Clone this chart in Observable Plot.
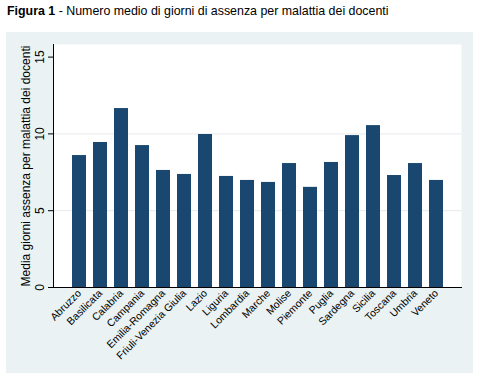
<!DOCTYPE html>
<html>
<head>
<meta charset="utf-8">
<script src="https://cdn.jsdelivr.net/npm/d3@7"></script>
<script src="https://cdn.jsdelivr.net/npm/@observablehq/plot@0.6"></script>
<style>
  html, body { margin: 0; padding: 0; background: #ffffff; }
  body { width: 484px; height: 383px; position: relative; overflow: hidden; font-family: "Liberation Sans", Arial, sans-serif; }
  #title { position: absolute; left: 7px; top: 4px; font-size: 12.4px; color: #000; white-space: nowrap; }
  #panel { position: absolute; left: 6px; top: 32px; width: 467px; height: 341px; background: #eaf2f3; }
  #panel svg { display: block; }
</style>
</head>
<body>
<div id="title"><b>Figura 1</b> - Numero medio di giorni di assenza per malattia dei docenti</div>
<div id="panel"></div>
<script>
const regions = ["Abruzzo", "Basilicata", "Calabria", "Campania", "Emilia-Romagna", "Friuli-Venezia Giulia", "Lazio", "Liguria", "Lombardia", "Marche", "Molise", "Piemonte", "Puglia", "Sardegna", "Sicilia", "Toscana", "Umbria", "Veneto"];
const giorni = [8.59, 9.44, 11.65, 9.24, 7.62, 7.36, 9.96, 7.23, 6.97, 6.84, 8.07, 6.52, 8.14, 9.89, 10.54, 7.29, 8.07, 6.97];
const yTicks = [0, 5, 10, 15];
const gridTicks = [5, 10];
const yLabel = "Media giorni assenza per malattia dei docenti";

const data = regions.map((r, i) => ({regione: r, valore: giorni[i]}));

const chart = Plot.plot({
  width: 467,
  height: 341,
  marginLeft: 47,
  marginRight: 12,
  marginTop: 12,
  marginBottom: 86,
  style: {background: "transparent", fontFamily: "Liberation Sans, Arial, sans-serif", color: "#000"},
  x: {domain: regions, paddingInner: 0.35, paddingOuter: 0.665, label: null},
  y: {domain: [0, 15.82], label: null},
  marks: [
    Plot.frame({fill: "white", stroke: null}),
    Plot.ruleY(gridTicks, {stroke: "#e6e9ea", strokeWidth: 1}),
    Plot.barY(data, {x: "regione", y: "valore", fill: "#1a476f"}),
    Plot.frame({anchor: "left", stroke: "#000", strokeWidth: 1}),
    Plot.frame({anchor: "bottom", stroke: "#000", strokeWidth: 1}),
    Plot.axisY({ticks: yTicks, tickSize: 5, tickRotate: -90, tickPadding: 5, fontSize: 12, label: null}),
    Plot.text([yLabel], {text: d => d, frameAnchor: "left", textAnchor: "middle", rotate: -90, dx: -27, fontSize: 12, fill: "#000"}),
    Plot.axisX({tickSize: 0, tickRotate: -45, tickPadding: 4, fontSize: 10.5, label: null})
  ]
});
document.getElementById("panel").appendChild(chart);
</script>
</body>
</html>
